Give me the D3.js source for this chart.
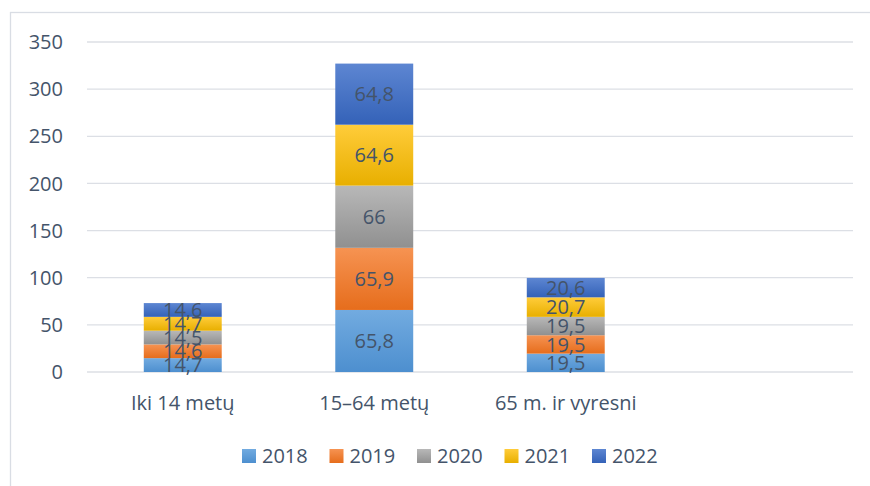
<!DOCTYPE html>
<html>
<head>
<meta charset="utf-8">
<script src="https://cdn.jsdelivr.net/npm/d3@7"></script>
<style>
  body { margin: 0; background: #fff; }
  svg text { font-family: "Open Sans", sans-serif; fill: #44546A; }
</style>
</head>
<body>
<svg id="main" width="870" height="486"></svg>
<script>
var categories = ["Iki 14 metų", "15–64 metų", "65 m. ir vyresni", ""];
var years = ["2018", "2019", "2020", "2021", "2022"];
var v2018 = [14.7, 65.8, 19.5];
var v2019 = [14.6, 65.9, 19.5];
var v2020 = [14.5, 66, 19.5];
var v2021 = [14.7, 64.6, 20.7];
var v2022 = [14.6, 64.8, 20.6];
var yTicks = [0, 50, 100, 150, 200, 250, 300, 350];

var series = [v2018, v2019, v2020, v2021, v2022];
var colTop = ["#72abe0", "#f69352", "#b8b8b8", "#ffcc3a", "#5d86d2"];
var colBot = ["#4d8fcf", "#e66d1c", "#909090", "#e8af00", "#3462b8"];

var svg = d3.select("#main");

// chart frame
svg.append("rect")
    .attr("x", 10.5).attr("y", 12.5)
    .attr("width", 900).attr("height", 500)
    .attr("fill", "none").attr("stroke", "#d9dde4").attr("stroke-width", 1.3);

var defs = svg.append("defs");
years.forEach(function(yr, i){
    var g = defs.append("linearGradient").attr("id", "g" + yr)
        .attr("x1", 0).attr("y1", 0).attr("x2", 0).attr("y2", 1);
    g.append("stop").attr("offset", "0%").attr("stop-color", colTop[i]);
    g.append("stop").attr("offset", "100%").attr("stop-color", colBot[i]);
});

var x = d3.scaleBand().domain(categories).range([87, 853]).paddingInner(0.593).paddingOuter(0.2965);
var y = d3.scaleLinear().domain([0, 350]).range([372, 42]);

// gridlines
svg.append("g").selectAll("line").data(yTicks).enter().append("line")
    .attr("x1", 87).attr("x2", 853)
    .attr("y1", d => y(d)).attr("y2", d => y(d))
    .attr("stroke", "#dcdfe5").attr("stroke-width", 1.3);

// y tick labels
svg.append("g").selectAll("text").data(yTicks).enter().append("text")
    .attr("x", 63).attr("y", d => y(d))
    .attr("dy", "0.36em")
    .attr("text-anchor", "end")
    .style("font-size", "20px")
    .text(d => d);

// stacked data
var rows = categories.slice(0, 3).map(function(c, i){
    var r = {cat: c};
    years.forEach(function(yr, j){ r[yr] = series[j][i]; });
    return r;
});
var stack = d3.stack().keys(years)(rows);

var layers = svg.append("g").selectAll("g").data(stack).enter().append("g")
    .attr("fill", d => "url(#g" + d.key + ")");

layers.selectAll("rect").data(d => d).enter().append("rect")
    .attr("x", d => x(d.data.cat))
    .attr("width", x.bandwidth())
    .attr("y", d => y(d[1]))
    .attr("height", d => y(d[0]) - y(d[1]));

// segment labels
var labels = svg.append("g");
stack.forEach(function(layer){
    layer.forEach(function(d){
        labels.append("text")
            .attr("x", x(d.data.cat) + x.bandwidth() / 2)
            .attr("y", (y(d[0]) + y(d[1])) / 2)
            .attr("dy", "0.36em")
            .attr("text-anchor", "middle")
            .style("font-size", "20px")
            .text(String(d.data[layer.key]).replace(".", ","));
    });
});

// category labels
svg.append("g").selectAll("text").data(categories.slice(0, 3)).enter().append("text")
    .attr("x", d => x(d) + x.bandwidth() / 2)
    .attr("y", 410)
    .attr("text-anchor", "middle")
    .style("font-size", "20px")
    .text(d => d);

// legend
var leg = svg.append("g").selectAll("g").data(years).enter().append("g")
    .attr("transform", (d, i) => "translate(" + (242 + i * 87.5) + ",449)");
leg.append("rect").attr("width", 14).attr("height", 14)
    .attr("fill", d => "url(#g" + d + ")");
leg.append("text").attr("x", 20).attr("y", 14)
    .style("font-size", "20px")
    .text(d => d);
</script>
</body>
</html>
